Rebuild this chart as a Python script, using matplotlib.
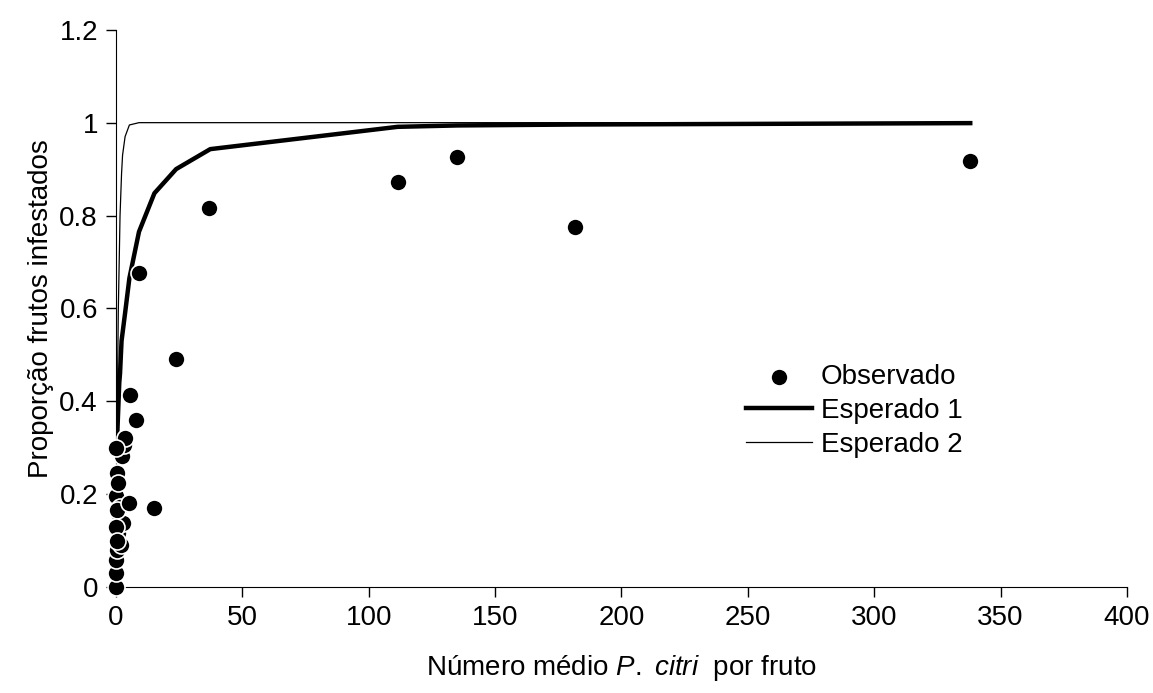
import numpy as np
import matplotlib
matplotlib.use("Agg")
import matplotlib.pyplot as plt
from matplotlib.ticker import FuncFormatter

plt.rcParams['font.family'] = ['Liberation Sans', 'DejaVu Sans']
plt.rcParams['mathtext.fontset'] = 'custom'
plt.rcParams['mathtext.rm'] = 'Liberation Sans'
plt.rcParams['mathtext.it'] = 'Liberation Sans:italic'

# observed points (mean P. citri per fruit, proportion infested)
obs_x = [0, 0, 0, 0, 0.3, 0.3, 0.9, 0.9, 1.6, 1.9, 2.6, 0.8, 0.3, 2.2, 3.2, 3.6,
         5.3, 5.6, 7.8, 9.1, 15.1, 23.6, 36.8, 111.6, 134.9, 181.6, 337.9,
         0, 0.2, 0.5]
obs_y = [0.0, 0.03, 0.058, 0.195, 0.08, 0.245, 0.116, 0.159, 0.173, 0.09, 0.137,
         0.223, 0.166, 0.281, 0.306, 0.32, 0.18, 0.414, 0.36, 0.677, 0.17, 0.491,
         0.817, 0.873, 0.927, 0.776, 0.918, 0.13, 0.30, 0.10]

# expected 1 (thick line)
esp1_x = [0.3, 1.3, 1.6, 2.2, 3.6, 5.3, 9.1, 15.2, 23.8, 37.3, 111.4, 135, 182, 338]
esp1_y = [0.30, 0.44, 0.46, 0.53, 0.59, 0.665, 0.765, 0.848, 0.90, 0.943, 0.991,
          0.994, 0.996, 0.999]

# expected 2 (thin line)
esp2_x = [0, 0.3, 0.9, 1.6, 2.2, 2.6, 3.6, 5.3, 9.1, 15.2, 23.8, 37.3, 111.4, 135, 182, 338]
esp2_y = [0, 0.26, 0.59, 0.80, 0.89, 0.93, 0.97, 0.995, 1.0, 1.0, 1.0, 1.0, 1.0,
          1.0, 1.0, 1.0]

fig = plt.figure(figsize=(11.53, 6.93), dpi=100)
ax = fig.add_axes([0.1006, 0.153, 0.8768, 0.804])

ax.plot(esp1_x, esp1_y, color='black', lw=3.2, label='Esperado 1', zorder=2)
ax.plot(esp2_x, esp2_y, color='black', lw=0.9, label='Esperado 2', zorder=2)
ax.scatter(obs_x, obs_y, s=150, color='black', edgecolor='white', linewidth=1.2,
           label='Observado', zorder=3, clip_on=False)

ax.set_xlim(0, 400)
ax.set_ylim(0, 1.2)
ax.set_xticks(np.arange(0, 401, 50))
ax.set_yticks(np.arange(0, 1.21, 0.2))
ax.yaxis.set_major_formatter(FuncFormatter(lambda v, p: '%g' % round(v, 1)))
ax.spines['top'].set_visible(False)
ax.spines['right'].set_visible(False)
ax.tick_params(direction='out', length=7, width=1, labelsize=20, pad=6)

ax.set_xlabel(r'Número médio $\it{P.}$ $\it{citri}$  por fruto', fontsize=20, labelpad=16)
ax.set_ylabel('Proporção frutos infestados', fontsize=20, labelpad=4)

h, l = ax.get_legend_handles_labels()
order = [2, 0, 1]
ax.legend([h[i] for i in order], [l[i] for i in order], frameon=False, fontsize=20,
          loc='center left', bbox_to_anchor=(0.612, 0.316), handlelength=2.4,
          handletextpad=0.3, labelspacing=0.28, borderaxespad=0)

fig.savefig('out.png', dpi=100)
